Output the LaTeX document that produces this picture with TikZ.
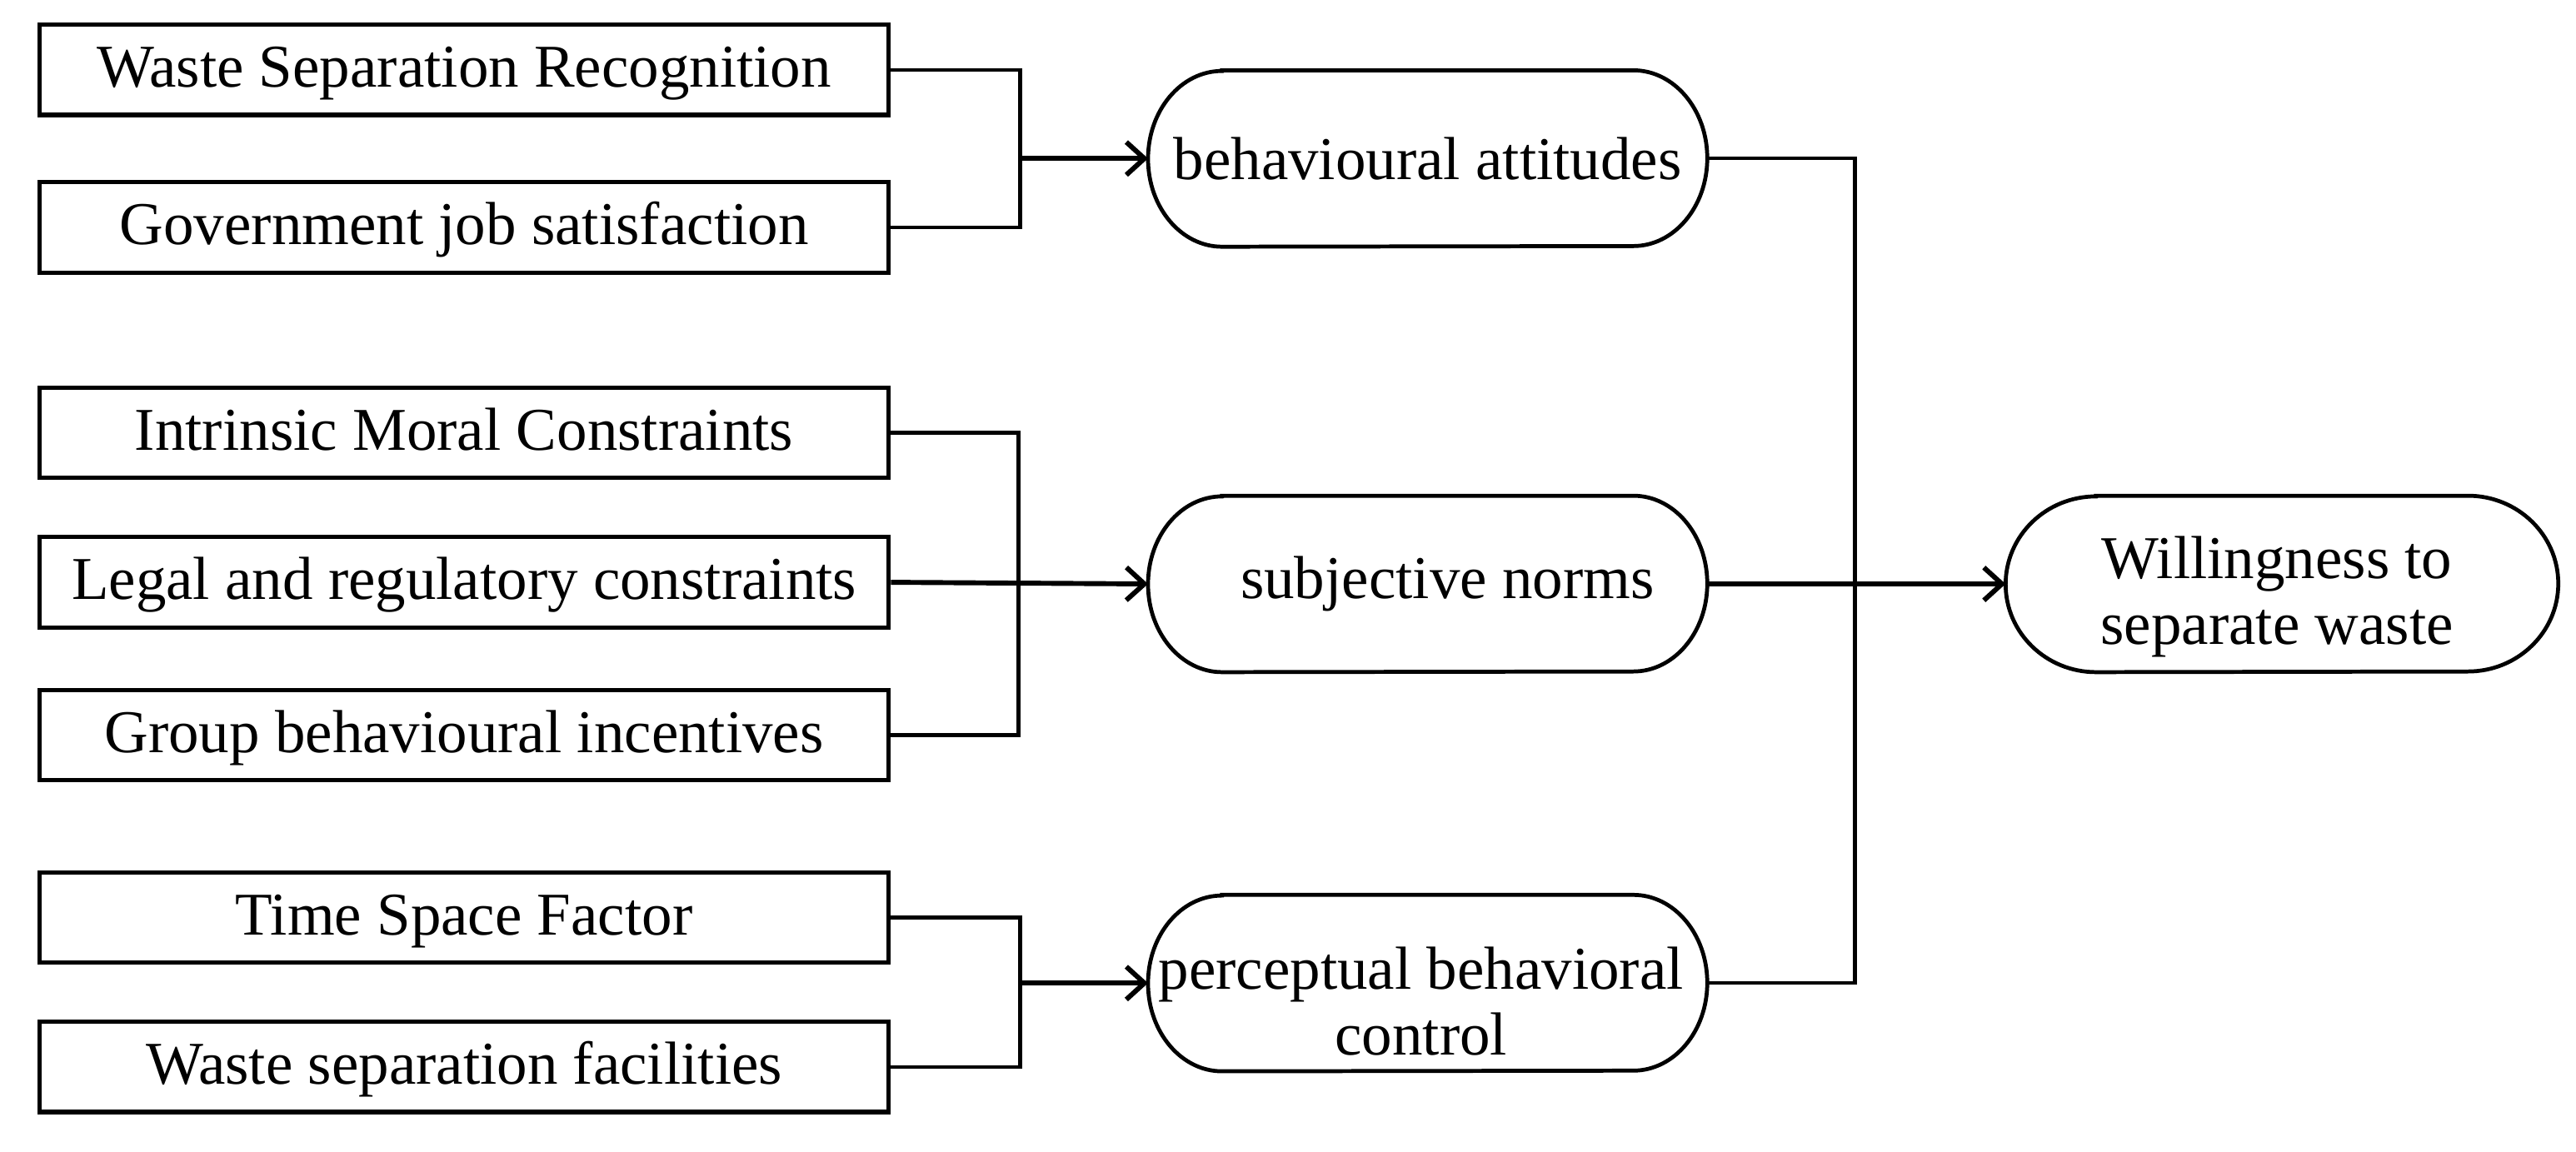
\documentclass[tikz,border=0pt]{standalone}
\usepackage{fontspec}
\setmainfont{Liberation Serif}
\usetikzlibrary{arrows.meta,calc}
\begin{document}
\begin{tikzpicture}[x=1pt,y=-1pt,
  every node/.style={font=\fontsize{37}{40}\selectfont, inner sep=0pt},
  factor/.style={draw, line width=2.6pt, minimum width=517pt, minimum height=55pt, text height=25pt, text depth=4pt},
  construct/.style={minimum width=340pt, minimum height=107pt, align=center},
  label/.style={align=center},
  link/.style={line width=2.2pt},
  arr/.style={line width=3pt, -{Straight Barb[length=11pt,width=20pt,line width=3pt]}}
]
\useasboundingbox (0,0) rectangle (1568,701);

% factor boxes
\node[factor] (R1) at (282.5,42.5) {Waste Separation Recognition};
\node[factor] (R2) at (282.5,138.5) {Government job satisfaction};
\node[factor] (R3) at (282.5,263.5) {Intrinsic Moral Constraints};
\node[factor] (R4) at (282.5,354.5) {Legal and regulatory constraints};
\node[factor] (R5) at (282.5,447.5) {Group behavioural incentives};
\node[factor] (R6) at (282.5,558.5) {Time Space Factor};
\node[factor] (R7) at (282.5,649.5) {Waste separation facilities};

% constructs
\node[construct] (BA) at (869,96.5) {};
\node[label] (tBA) at (869,96.5) {behavioural attitudes};
\node[construct] (SN) at (869,355.5) {};
\node[label] (tSN) at (881,355.5) {subjective norms};
\node[construct] (PBC) at (869,598.5) {};
\node[label] (tPBC) at (865,609.5) {perceptual behavioral\\control};
\node[construct, minimum width=336pt] (W) at (1389,355.5) {};
\node[label] (tW) at (1386,363.5) {Willingness to\\separate waste};

\foreach \n/\r in {BA/45,SN/45,PBC/45,W/55}{
  \draw[line width=2.4pt]
    ($(\n.north west)+(\r,0)$) -- ($(\n.north east)+(-\r,0)$)
    arc[start angle=-90,end angle=90,x radius=\r,y radius=53.5]
    -- ($(\n.south west)+(\r,0)$)
    arc[start angle=90,end angle=270,x radius=\r,y radius=53.5] -- cycle;
}

% junctions
\coordinate (j1) at (621,96.5);
\coordinate (j2) at (620,355.5);
\coordinate (j3) at (621,598.5);
\coordinate (jR) at (1129,355.5);

\draw[link] (R1.east) -| (j1) |- (R2.east);
\draw[arr] (j1) -- (BA.west);

\draw[link] (R3.east) -| (j2) |- (R5.east);
\draw[arr] (R4.east) -- (SN.west);

\draw[link] (R6.east) -| (j3) |- (R7.east);
\draw[arr] (j3) -- (PBC.west);

\draw[link] (BA.east) -| (jR) |- (PBC.east);
\draw[arr] (SN.east) -- (W.west);
\end{tikzpicture}
\end{document}
